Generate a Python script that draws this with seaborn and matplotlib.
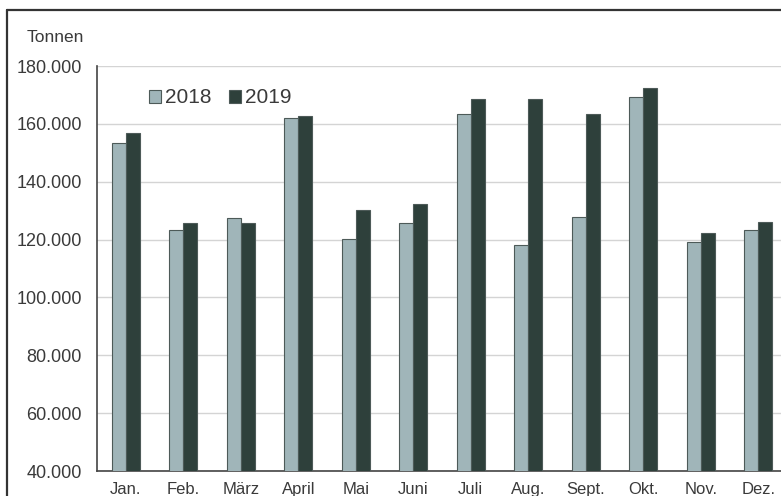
import matplotlib
matplotlib.use("Agg")
import matplotlib.pyplot as plt
from matplotlib.lines import Line2D
from matplotlib.patches import Patch
from matplotlib.ticker import FixedLocator, FuncFormatter
import pandas as pd
import seaborn as sns

# Monthly tonnage, 2018 vs 2019
months = ["Jan.", "Feb.", "März", "April", "Mai", "Juni",
          "Juli", "Aug.", "Sept.", "Okt.", "Nov.", "Dez."]
tonnen_2018 = [153400, 123200, 127500, 161900, 120100, 125600,
               163400, 118000, 127900, 169200, 119200, 123200]
tonnen_2019 = [156700, 125600, 125900, 162800, 130200, 132200,
               168600, 168600, 163300, 172500, 122300, 126100]
years = ["2018", "2019"]
y_ticks = [40000, 60000, 80000, 100000, 120000, 140000, 160000, 180000]
y_label = "Tonnen"

df = pd.DataFrame({
    "Monat": months * 2,
    "Jahr": [years[0]] * len(months) + [years[1]] * len(months),
    "Tonnen": tonnen_2018 + tonnen_2019,
})

sns.set_theme(style="white")
plt.rcParams["font.family"] = ["Liberation Sans", "DejaVu Sans"]

text_color = "#3a3a3a"
palette = {"2018": "#a0b5b9", "2019": "#2e403b"}

fig = plt.figure(figsize=(7.81, 4.96), dpi=100)
ax = fig.add_axes([97 / 781, 25 / 496, 690 / 781, 405 / 496])

sns.barplot(data=df, x="Monat", y="Tonnen", hue="Jahr", order=months,
            hue_order=years, palette=palette, width=0.49, saturation=1,
            edgecolor="#4d5a58", linewidth=0.8, ax=ax, legend=False,
            zorder=3)

ax.set_xlim(-0.5, len(months) - 0.5)
ax.set_ylim(y_ticks[0], y_ticks[-1])
ax.yaxis.set_major_locator(FixedLocator(y_ticks))
ax.yaxis.set_major_formatter(
    FuncFormatter(lambda v, _: f"{int(v):,}".replace(",", ".")))
ax.grid(axis="y", color="#d4d4d4", linewidth=1.0, zorder=0)
ax.set_axisbelow(True)

ax.set_xlabel("")
ax.set_ylabel("")
ax.tick_params(axis="y", length=0, pad=11, labelsize=13, labelcolor=text_color)
ax.tick_params(axis="x", length=0, pad=8, labelsize=12, labelcolor=text_color)

for side in ("top", "right"):
    ax.spines[side].set_visible(False)
for side in ("left", "bottom"):
    ax.spines[side].set_color("#444444")
    ax.spines[side].set_linewidth(1.2)

handles = [Patch(facecolor=palette[y], edgecolor="#4d5a58", linewidth=0.8)
           for y in years]
ax.legend(handles, years, loc="center left", bbox_to_anchor=(0.075, 0.921),
          ncol=2, frameon=False, fontsize=15, handlelength=0.6,
          handleheight=0.6, handletextpad=0.2, columnspacing=0.8,
          labelcolor=text_color, borderpad=0, borderaxespad=0)

fig.text(27 / 781, 1 - 37 / 496, y_label, fontsize=12.5, color=text_color,
         va="center", ha="left")

# Outer frame (top and left edges)
frame_kw = dict(color="#333333", linewidth=1.6, transform=fig.transFigure)
fig.add_artist(Line2D([7 / 781, 1.0], [1 - 10 / 496] * 2, **frame_kw))
fig.add_artist(Line2D([7 / 781] * 2, [0.0, 1 - 10 / 496], **frame_kw))

fig.savefig("out.png", dpi=100)
